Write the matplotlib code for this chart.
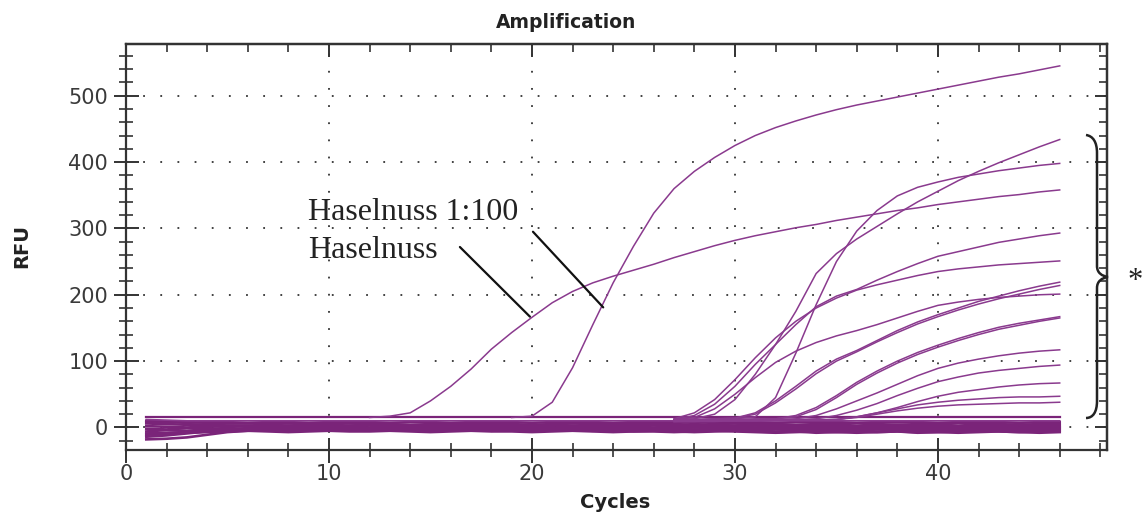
import matplotlib
matplotlib.use("Agg")
import matplotlib.pyplot as plt
from matplotlib.ticker import MultipleLocator
from matplotlib.path import Path
from matplotlib.patches import PathPatch

# cycles of the run
cycles = list(range(1, 47))

# Haselnuss (undiluted) and Haselnuss 1:100
hasel_cycles = list(range(12, 47))
hasel = [15, 17, 22, 40, 62, 88, 118, 143, 166, 188, 205, 218, 228, 237, 246,
         256, 265, 274, 282, 289, 295, 301, 306, 312, 317, 322, 327, 331, 336,
         340, 344, 348, 351, 355, 358]
hasel_100_cycles = list(range(19, 47))
hasel_100 = [15, 17, 38, 90, 155, 218, 273, 323, 360, 386, 407, 425, 440, 452,
             462, 471, 479, 486, 492, 498, 504, 510, 516, 522, 528, 533, 539, 545]

# late samples (marked with the brace), cycles 27..46
late_cycles = list(range(27, 47))
late_a = [12, 13, 20, 42, 80, 125, 175, 232, 262, 284, 303, 322, 340, 356, 372, 386, 399, 411, 423, 434]
late_b = [11, 11, 12, 13, 16, 45, 112, 185, 250, 296, 327, 349, 362, 370, 377, 382, 387, 391, 395, 398]
late_c = [12, 18, 35, 62, 95, 125, 155, 182, 198, 208, 222, 235, 247, 258, 265, 272, 279, 284, 289, 293]
late_d = [13, 22, 42, 72, 105, 135, 160, 180, 195, 207, 215, 222, 229, 235, 239, 242, 245, 247, 249, 251]
late_e = [12, 15, 28, 50, 75, 98, 115, 128, 138, 146, 155, 165, 175, 184, 189, 193, 196, 198, 200, 201]
late_f = [11, 12, 13, 14, 22, 40, 62, 85, 103, 116, 131, 146, 159, 170, 180, 190, 198, 206, 213, 219]
late_g = [11, 12, 13, 14, 20, 37, 58, 81, 100, 114, 129, 143, 156, 167, 177, 186, 194, 201, 208, 214]
late_h = [10, 11, 12, 12, 13, 13, 18, 30, 48, 68, 85, 100, 113, 124, 134, 143, 151, 157, 162, 167]
late_i = [10, 11, 11, 12, 12, 13, 16, 27, 45, 65, 82, 97, 110, 121, 131, 140, 148, 154, 160, 165]
late_j = [10, 10, 11, 11, 12, 12, 13, 18, 28, 40, 52, 65, 78, 89, 97, 103, 108, 112, 115, 117]
late_k = [10, 10, 10, 11, 11, 12, 12, 13, 18, 26, 36, 48, 59, 69, 76, 82, 86, 89, 92, 94]
late_l = [9, 10, 10, 10, 11, 11, 11, 12, 12, 16, 22, 30, 39, 47, 53, 57, 61, 64, 66, 67]
late_m = [9, 9, 10, 10, 10, 11, 11, 11, 12, 16, 22, 28, 34, 38, 41, 43, 45, 46, 46, 47]
late_n = [9, 9, 9, 10, 10, 10, 11, 11, 12, 15, 20, 25, 29, 32, 34, 35, 36, 37, 37, 38]
late = [late_a, late_b, late_c, late_d, late_e, late_f, late_g,
        late_h, late_i, late_j, late_k, late_l, late_m, late_n]

# negative / flat traces, cycles 1..46
flat_a = [15, 15, 15, 15, 15, 15, 15, 15, 15, 15, 15, 15, 15, 15, 15, 15, 15, 15, 15, 15, 15, 15, 15,
          15, 15, 15, 15, 15, 15, 15, 15, 15, 15, 15, 15, 15, 15, 15, 15, 15, 15, 15, 15, 15, 15, 15]
flat_b = [12, 11, 10, 10, 10, 10, 10, 10, 10, 10, 10, 10, 10, 10, 10, 10, 10, 10, 10, 10, 10, 10, 10,
          10, 10, 10, 10, 10, 10, 10, 10, 10, 10, 10, 10, 10, 10, 10, 10, 10, 10, 10, 10, 10, 10, 10]
base_a = [-14, -12, -9, -6, -4, -3, -2, -2, -1, -1, 0, -1, 0, 0, -1, 0, 1, 0, 0, -1, 0, 0, 1,
          0, 0, -1, 0, 0, 1, 0, 0, -1, 0, 0, 1, 0, -1, 0, 0, 1, 0, 0, -1, 0, 0, 1]
base_b = [-18, -17, -15, -11, -7, -5, -4, -3, -3, -2, -2, -3, -2, -2, -3, -3, -2, -2, -3, -2, -2, -3, -4,
          -3, -3, -2, -3, -4, -3, -3, -4, -3, -3, -2, -3, -4, -3, -3, -2, -3, -3, -4, -3, -2, -3, -3]
base_c = [6, 5, 4, 4, 3, 3, 2, 3, 3, 2, 3, 3, 2, 2, 3, 3, 4, 3, 3, 2, 3, 3, 2,
          3, 4, 3, 3, 2, 3, 3, 4, 3, 2, 3, 3, 2, 3, 4, 3, 3, 2, 3, 3, 4, 3, 3]
base_d = [-6, -4, -5, -3, -4, -2, -3, -4, -3, -2, -3, -3, -4, -3, -2, -3, -4, -3, -3, -4, -3, -2, -3,
          -3, -4, -5, -4, -3, -4, -5, -4, -3, -4, -4, -5, -4, -3, -4, -5, -4, -3, -4, -4, -5, -4, -4]
base_e = [10, 9, 8, 7, 6, 6, 5, 6, 5, 5, 6, 5, 5, 4, 5, 5, 6, 5, 5, 4, 5, 6, 5,
          5, 6, 5, 5, 4, 5, 6, 5, 5, 4, 5, 5, 6, 5, 4, 5, 5, 6, 5, 5, 4, 5, 5]
base_f = [-9, -8, -7, -6, -6, -5, -6, -7, -6, -5, -6, -6, -5, -6, -7, -6, -5, -6, -6, -7, -6, -5, -6,
          -7, -6, -6, -7, -6, -5, -6, -7, -8, -7, -6, -7, -8, -7, -6, -7, -7, -8, -7, -6, -7, -8, -7]
base_g = [2, 1, 0, 1, 2, 1, 0, 1, 2, 2, 1, 0, 1, 2, 1, 1, 0, 1, 2, 1, 0, 1, 1,
          2, 1, 0, 1, 2, 1, 1, 0, 1, 2, 1, 0, 1, 2, 1, 1, 0, 1, 2, 1, 0, 1, 2]
base_h = [-2, -3, -1, -2, -1, -2, -1, 0, -1, -2, -1, -1, -2, -1, 0, -1, -2, -1, -1, -2, -1, 0, -1,
          -2, -1, -2, -1, 0, -1, -2, -1, -2, -1, 0, -1, -2, -1, -2, -1, -1, -2, -1, 0, -1, -2, -1]
base_i = [8, 8, 7, 8, 8, 7, 8, 8, 7, 8, 8, 8, 7, 8, 8, 7, 8, 8, 8, 7, 8, 8, 8,
          7, 8, 8, 8, 7, 8, 8, 8, 7, 8, 8, 8, 7, 8, 8, 8, 7, 8, 8, 8, 7, 8, 8]
base_j = [-11, -10, -8, -7, -6, -4, -4, -3, -4, -5, -4, -3, -4, -4, -5, -4, -3, -5, -4, -4, -3, -4, -5,
          -4, -6, -5, -6, -7, -6, -5, -6, -7, -6, -8, -7, -6, -7, -6, -8, -7, -6, -5, -6, -7, -6, -5]
base = [base_a, base_b, base_c, base_d, base_e, base_f, base_g, base_h, base_i, base_j]

purple = "#8a3a8e"
purple_dark = "#7a2479"

fig = plt.figure(figsize=(11.43, 5.15), dpi=100)
ax = fig.add_axes([126 / 1143, 1 - 450 / 515, (1107 - 126) / 1143, (450 - 44) / 515])

for b in base:
    ax.plot(cycles, b, color=purple_dark, lw=1.9, solid_joinstyle="miter")
ax.plot(cycles, flat_b, color=purple, lw=1.2)
ax.plot(cycles, flat_a, color=purple_dark, lw=1.6)
for s in late:
    ax.plot(late_cycles, s, color=purple, lw=1.1)
ax.plot(hasel_cycles, hasel, color=purple, lw=1.1)
ax.plot(hasel_100_cycles, hasel_100, color=purple, lw=1.1)

ax.set_xlim(0, 48.33)
ax.set_ylim(-34, 578)
ax.xaxis.set_major_locator(MultipleLocator(10))
ax.xaxis.set_minor_locator(MultipleLocator(2))
ax.yaxis.set_major_locator(MultipleLocator(100))
ax.yaxis.set_minor_locator(MultipleLocator(20))
ax.set_yticks([0, 100, 200, 300, 400, 500])

ax.grid(True, which="major", color="#333333", linestyle=(0, (1, 8.5)), lw=1.3)
ax.set_axisbelow(True)

ax.tick_params(which="major", direction="inout", length=18, width=1.4,
               labelsize=15, labelcolor="#3a3a3a", color="#333333", pad=4)
ax.tick_params(axis="x", which="major", pad=1)
ax.tick_params(which="minor", direction="inout", length=10, width=1.2, color="#333333")
for sp in ax.spines.values():
    sp.set_linewidth(1.6)
    sp.set_color("#333333")

# inward ticks on the right and top
sec_y = ax.secondary_yaxis("right")
sec_y.yaxis.set_major_locator(MultipleLocator(100))
sec_y.yaxis.set_minor_locator(MultipleLocator(20))
sec_y.tick_params(which="major", direction="in", length=9, width=1.4, color="#333333", labelright=False)
sec_y.tick_params(which="minor", direction="in", length=6, width=1.2, color="#333333")
sec_y.spines["right"].set_linewidth(1.6)
sec_x = ax.secondary_xaxis("top")
sec_x.xaxis.set_major_locator(MultipleLocator(10))
sec_x.xaxis.set_minor_locator(MultipleLocator(2))
sec_x.tick_params(which="major", direction="in", length=9, width=1.4, color="#333333", labeltop=False)
sec_x.tick_params(which="minor", direction="in", length=6, width=1.2, color="#333333")
sec_x.spines["top"].set_linewidth(1.6)

fig.text(566 / 1143, 1 - 22 / 515, "Amplification", ha="center", va="center",
         fontsize=13.5, fontweight="bold", color="#222222")
fig.text(22 / 1143, 1 - 246 / 515, "RFU", ha="center", va="center", rotation=90,
         fontsize=14, fontweight="bold", color="#222222")
fig.text(615 / 1143, 1 - 503 / 515, "Cycles", ha="center", va="center",
         fontsize=14, fontweight="bold", color="#222222")

# labels with leader lines
serif = "Liberation Serif"
ax.text(8.97, 313, "Haselnuss 1:100", family=serif, fontsize=23, color="#222222", va="baseline")
ax.text(8.97, 256, "Haselnuss", family=serif, fontsize=23, color="#222222", va="baseline")
ax.annotate("", xy=(23.51, 181), xytext=(20.05, 295),
            arrowprops=dict(arrowstyle="-", color="#111111", lw=1.6, shrinkA=0, shrinkB=0))
ax.annotate("", xy=(19.9, 167), xytext=(16.45, 272),
            arrowprops=dict(arrowstyle="-", color="#111111", lw=1.6, shrinkA=0, shrinkB=0))

# brace on the right, in pixel positions
def fx(px, py):
    return (px / 1143, 1 - py / 515)

verts = [fx(1086, 135), fx(1093, 136), fx(1097, 142), fx(1097, 153),
         fx(1097, 266), fx(1097, 273), fx(1102, 276), fx(1108, 277),
         fx(1102, 278), fx(1097, 281), fx(1097, 288),
         fx(1097, 401), fx(1097, 412), fx(1093, 418), fx(1086, 418)]
codes = [Path.MOVETO, Path.CURVE4, Path.CURVE4, Path.CURVE4,
         Path.LINETO, Path.CURVE4, Path.CURVE4, Path.CURVE4,
         Path.CURVE4, Path.CURVE4, Path.CURVE4,
         Path.LINETO, Path.CURVE4, Path.CURVE4, Path.CURVE4]
brace = PathPatch(Path(verts, codes), fill=False, lw=1.8, edgecolor="#222222",
                  transform=fig.transFigure)
fig.add_artist(brace)
fig.text(1135 / 1143, 1 - 282 / 515, "*", family=serif, fontsize=22,
         ha="center", va="center", color="#222222")

fig.savefig("out.png", dpi=100)
